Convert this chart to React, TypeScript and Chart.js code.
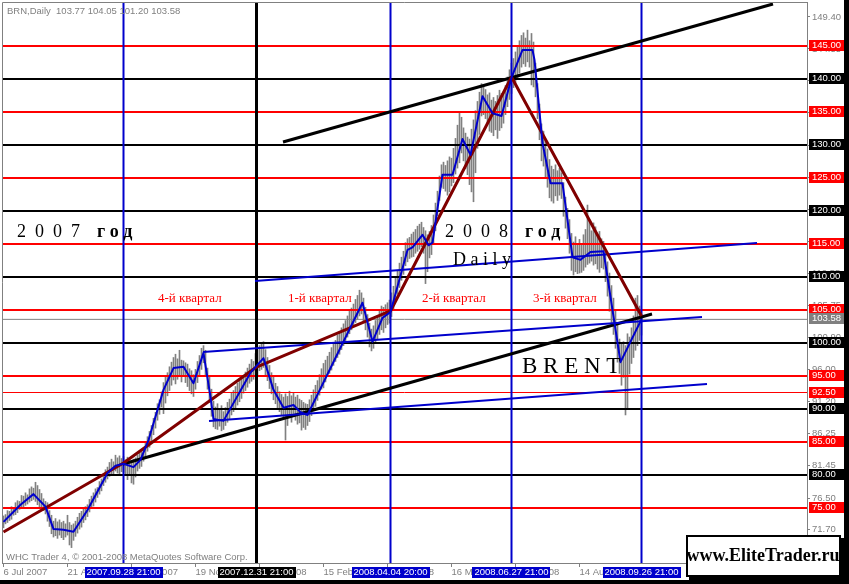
import React, { useEffect, useRef } from "react";
import { Chart, registerables } from "chart.js";

Chart.register(...registerables);

const SANS = "'Liberation Sans', Arial, sans-serif";
const SERIF = "'Liberation Serif', 'Times New Roman', serif";

// ---- data ----
const symbolName = "BRN,Daily";
const lastBar = [103.77, 104.05, 101.2, 103.58]; // open high low close

// daily bar highs / lows (trading-day index 0..319, 6 Jul 2007 .. 26 Sep 2008)
const barHighs = [
  73.8, 74.0, 74.6, 74.5, 75.2, 75.0, 75.8, 76.1, 76.0, 76.9,
  76.8, 77.3, 77.0, 77.9, 78.2, 78.0, 78.9, 78.4, 77.8, 77.2,
  76.4, 76.0, 75.8, 74.6, 73.9, 73.0, 73.4, 72.9, 73.2, 72.8,
  73.0, 72.6, 73.9, 72.8, 72.4, 72.6, 73.0, 73.6, 74.2, 74.5,
  74.9, 75.2, 75.5, 76.3, 76.8, 77.3, 77.9, 78.1, 79.0, 79.4,
  80.1, 80.8, 81.2, 81.9, 82.4, 82.0, 83.0, 82.6, 82.9, 82.5,
  82.8, 82.3, 82.7, 82.2, 82.0, 82.4, 82.6, 83.0, 83.4, 83.5,
  84.1, 85.0, 85.8, 86.6, 87.5, 88.6, 89.5, 90.8, 91.4, 92.6,
  94.0, 94.9, 95.5, 96.4, 97.1, 97.8, 98.3, 97.6, 98.9, 97.4,
  97.3, 97.0, 96.8, 96.1, 95.8, 95.2, 96.0, 97.2, 98.1, 99.2,
  99.6, 98.9, 96.2, 94.8, 93.0, 91.2, 90.3, 90.8, 89.9, 90.5,
  89.6, 90.2, 91.0, 91.5, 92.4, 92.8, 93.4, 93.9, 94.6, 95.0,
  95.0, 95.6, 96.2, 96.8, 97.5, 97.2, 98.4, 98.9, 99.6, 100.1,
  100.2, 99.0, 97.8, 96.6, 95.5, 94.8, 93.9, 93.4, 92.6, 92.2,
  91.8, 92.3, 91.9, 92.7, 92.0, 92.4, 91.8, 92.1, 91.5, 91.3,
  91.0, 90.8, 90.7, 91.4, 92.1, 92.9, 93.6, 94.3, 95.2, 96.1,
  96.9, 97.4, 98.0, 98.6, 99.3, 99.8, 100.4, 101.2, 101.7, 102.3,
  102.9, 103.4, 104.1, 104.8, 105.3, 105.9, 106.6, 107.2, 108.0, 107.6,
  106.8, 105.4, 104.3, 103.0, 102.1, 102.6, 103.4, 104.2, 104.9, 105.6,
  105.4, 105.8, 106.1, 106.5, 107.6, 108.6, 109.8, 110.9, 112.1, 113.0,
  113.9, 115.2, 115.8, 116.0, 116.5, 116.8, 117.2, 117.7, 118.0, 118.3,
  117.5, 117.0, 116.4, 116.9, 117.8, 119.4, 121.2, 123.0, 125.3, 127.0,
  127.4, 126.9, 127.6, 128.2, 128.0, 129.5, 131.0, 133.0, 134.8, 134.2,
  132.6, 131.8, 131.2, 130.9, 132.4, 133.8, 135.2, 136.6, 138.0, 139.3,
  139.0, 138.4, 137.6, 137.9, 136.8, 137.2, 136.6, 137.5, 138.3, 137.8,
  137.9, 139.0, 140.3, 141.4, 142.4, 143.1, 144.1, 145.0, 145.8, 146.6,
  147.0, 146.2, 147.4, 145.8, 146.9, 145.6, 142.4, 139.3, 136.2, 133.2,
  132.1, 130.8, 129.4, 127.8, 126.8, 126.3, 127.0, 126.1, 126.5, 125.8,
  124.3, 122.1, 120.4, 118.7, 116.6, 115.3, 116.1, 115.0, 115.7, 114.9,
  116.4, 117.2, 120.9, 118.5, 117.0, 118.2, 117.6, 116.3, 116.9, 115.8,
  115.4, 114.0, 112.3, 110.6, 108.7, 106.8, 104.9, 103.0, 100.6, 99.8,
  100.2, 99.6, 101.4, 100.9, 102.3, 104.1, 106.8, 107.2, 105.6, 104.05,
];
const barLows = [
  72.0, 72.6, 72.8, 73.1, 73.3, 73.9, 74.0, 74.3, 74.8, 74.9,
  75.1, 75.4, 75.6, 75.9, 76.1, 76.3, 76.0, 75.5, 75.2, 74.7,
  74.6, 74.1, 73.0, 72.2, 71.1, 70.6, 70.8, 70.4, 70.9, 70.5,
  70.2, 70.6, 70.9, 69.4, 69.0, 70.1, 70.7, 71.2, 71.8, 72.1,
  72.8, 73.2, 73.7, 74.4, 74.9, 75.3, 75.9, 76.6, 77.1, 77.6,
  78.4, 78.9, 79.4, 79.8, 79.9, 80.2, 80.6, 80.3, 79.9, 80.5,
  80.4, 79.9, 79.3, 80.0, 78.8, 78.6, 79.7, 80.6, 81.0, 81.3,
  82.1, 82.9, 83.6, 84.2, 85.2, 86.1, 87.1, 88.3, 89.2, 90.3,
  89.3, 90.9, 92.0, 92.8, 93.6, 94.4, 93.8, 94.5, 94.9, 94.1,
  94.9, 94.0, 93.4, 92.8, 92.3, 91.9, 93.0, 94.0, 95.1, 96.0,
  97.0, 95.2, 93.0, 91.0, 88.9, 87.3, 87.0, 86.9, 87.4, 86.7,
  86.9, 87.5, 88.0, 88.4, 89.1, 89.6, 89.9, 90.6, 91.1, 91.6,
  92.4, 92.8, 93.3, 93.9, 94.2, 94.5, 94.9, 95.2, 95.8, 96.0,
  96.3, 95.2, 94.3, 93.1, 92.3, 91.4, 90.8, 90.2, 89.6, 89.1,
  88.6, 85.3, 87.5, 88.8, 88.0, 88.9, 88.3, 87.7, 87.9, 86.8,
  87.2, 86.9, 87.5, 88.1, 89.0, 89.7, 90.4, 91.3, 92.1, 93.0,
  93.2, 94.1, 94.9, 95.4, 95.9, 96.6, 97.2, 97.8, 98.3, 99.0,
  99.6, 100.2, 100.9, 101.4, 102.0, 102.6, 103.1, 103.6, 104.1, 104.4,
  103.2, 102.0, 100.9, 99.4, 98.8, 99.2, 99.9, 100.6, 101.3, 102.0,
  101.6, 102.3, 102.8, 103.0, 104.0, 105.0, 106.3, 107.4, 108.4, 109.5,
  110.4, 111.7, 112.3, 112.8, 113.0, 113.1, 113.6, 113.9, 114.2, 114.6,
  113.6, 109.0, 110.8, 112.9, 113.4, 115.2, 117.0, 119.3, 121.6, 123.6,
  123.4, 123.0, 122.4, 122.9, 123.8, 124.3, 125.6, 126.5, 127.3, 128.8,
  127.6, 126.4, 125.5, 124.0, 122.9, 121.4, 125.8, 129.5, 131.6, 134.4,
  134.6, 134.0, 133.2, 132.1, 131.9, 131.4, 132.3, 131.0, 132.2, 132.6,
  133.3, 134.6, 135.8, 136.9, 137.8, 138.7, 139.4, 140.2, 140.9, 141.8,
  142.3, 141.9, 142.6, 141.8, 139.1, 138.8, 137.3, 134.0, 130.8, 127.6,
  126.8, 125.2, 123.6, 122.0, 121.5, 121.2, 122.3, 121.6, 122.4, 121.9,
  119.2, 117.4, 115.8, 113.6, 111.0, 110.3, 110.8, 110.5, 110.6, 110.7,
  111.0, 111.5, 111.9, 112.1, 112.4, 111.8, 112.0, 111.2, 110.7, 111.4,
  111.2, 109.3, 107.1, 104.8, 103.0, 101.3, 99.2, 97.1, 95.4, 93.6,
  94.8, 89.1, 90.2, 95.3, 96.9, 97.8, 98.9, 99.6, 100.4, 101.2,
];

// hand-drawn blue zigzag
const zigIdx = [0, 8.5, 15, 21, 25, 30, 35, 42, 52, 56, 60, 65, 68.5, 72.5, 80, 85, 90, 95, 100, 103.5,
  105, 110, 123.5, 130, 135, 140, 145, 148.5, 152, 179.5, 184.5, 189.5, 193.5, 202, 204.5, 209.5, 212.5, 214.5, 219.5, 224.5,
  229.5, 233.5, 239.5, 244.5, 249, 254, 259.5, 264.5, 265.5, 269.5, 273.5, 279.5, 282, 284.5, 288.5, 293.5, 300, 308.5, 319];
const zigPrice = [72.9, 75.5, 77.1, 75.2, 71.8, 71.7, 71.4, 74.7, 80.3, 81.4, 81.7, 81.2, 82.3, 85.3, 92.9, 96.2, 96.4, 93.9, 98.5, 91.8,
  88.5, 88.2, 95.5, 97.7, 92.9, 90.2, 90.6, 89.5, 89.1, 106.1, 100.2, 103.8, 104.7, 114.1, 114.5, 116.4, 114.8, 115.2, 125.5, 125.5,
  130.9, 128.5, 137.4, 134.8, 134.4, 140.2, 144.4, 144.4, 142.9, 130.3, 124.2, 124.2, 118.6, 113.0, 112.6, 113.8, 113.9, 97.1, 103.6];

// maroon polyline
const maroonIdx = [0, 60, 126.5, 193.5, 254, 319];
const maroonPrice = [71.36, 81.82, 96.36, 104.85, 140.3, 104.09];

// trend lines [idx1, price1, idx2, price2]
const blackTrends = [
  [139.75, 130.45, 384.75, 151.36],
  [59.75, 81.67, 324.25, 104.39],
];
const blueTrends = [
  [99.75, 98.64, 349.25, 103.94],
  [102.75, 88.18, 351.75, 93.79],
  [125.75, 109.39, 376.75, 115.15],
];

const redLevels = [145, 135, 125, 115, 105, 95, 92.5, 85, 75];
const thinLevels = [92.5];
const blackLevels = [140, 130, 120, 110, 100, 90, 80];

const blueVerticals = [60, 193.5, 254, 319];
const blueVerticalLabels = ["2007.09.28 21:00", "2008.04.04 20:00", "2008.06.27 21:00", "2008.09.26 21:00"];
const blackVerticals = [126.5];
const blackVerticalLabels = ["2007.12.31 21:00"];

const priceTicks = [71.7, 76.5, 81.45, 86.25, 91.2, 96.0, 100.9, 105.75, 110.55, 115.45, 120.3, 125.15, 129.95, 134.85, 139.7, 144.55, 149.4];
const dateTickIdx = [0, 32, 64, 96, 128, 160, 192, 224, 256, 288];
const dateTickLabels = ["6 Jul 2007", "21 Aug 2007", "4 Oct 2007", "19 Nov 2007", "2 Jan 2008", "15 Feb 2008", "1 Apr 2008", "16 May 2008", "1 Jul 2008", "14 Aug 2008"];

const quarterLabels = ["4-й квартал", "1-й квартал", "2-й квартал", "3-й квартал"];
const quarterIdx = [77.25, 142.25, 209.25, 264.75];
const quarterPrice = 106.67;

const copyright = "WHC Trader 4, © 2001-2008 MetaQuotes Software Corp.";
const siteName = "www.EliteTrader.ru";

// ---- colours ----
const BLUE = "#0000CC";
const RED = "#FF0000";
const MAROON = "#800000";
const GRAY = "#808080";

const X_MIN = -0.75;
const X_MAX = 401.75;
const Y_MIN = 66.6667;
const Y_MAX = 151.6667;

function lineDs(points: { x: number; y: number }[], color: string, width: number, order: number) {
  return {
    type: "line",
    data: points,
    borderColor: color,
    backgroundColor: color,
    borderWidth: width,
    pointRadius: 0,
    pointHoverRadius: 0,
    fill: false,
    tension: 0,
    order,
    borderCapStyle: "butt",
    borderJoinStyle: "round",
  };
}

function buildDatasets() {
  const ds: any[] = [];
  ds.push({
    type: "bar",
    data: barHighs.map((h, i) => ({ x: i, y: [barLows[i], h] })),
    backgroundColor: GRAY,
    borderWidth: 0,
    barThickness: 1,
    order: 10,
  });
  redLevels.forEach((v) =>
    ds.push(lineDs([{ x: X_MIN - 2, y: v }, { x: X_MAX + 2, y: v }], RED, thinLevels.includes(v) ? 1 : 2, 6))
  );
  blackLevels.forEach((v) =>
    ds.push(lineDs([{ x: X_MIN - 2, y: v }, { x: X_MAX + 2, y: v }], "#000000", 2, 6))
  );
  ds.push(lineDs([{ x: X_MIN - 2, y: lastBar[3] }, { x: X_MAX + 2, y: lastBar[3] }], GRAY, 1, 7));
  blueVerticals.forEach((v) =>
    ds.push(lineDs([{ x: v, y: Y_MIN - 5 }, { x: v, y: Y_MAX + 5 }], BLUE, 2, 5))
  );
  blackVerticals.forEach((v) =>
    ds.push(lineDs([{ x: v, y: Y_MIN - 5 }, { x: v, y: Y_MAX + 5 }], "#000000", 3, 5))
  );
  blueTrends.forEach((t) =>
    ds.push(lineDs([{ x: t[0], y: t[1] }, { x: t[2], y: t[3] }], BLUE, 2, 3))
  );
  blackTrends.forEach((t) =>
    ds.push(lineDs([{ x: t[0], y: t[1] }, { x: t[2], y: t[3] }], "#000000", 3, 3))
  );
  ds.push(lineDs(maroonIdx.map((x, i) => ({ x, y: maroonPrice[i] })), MAROON, 3, 2));
  ds.push(lineDs(zigIdx.map((x, i) => ({ x, y: zigPrice[i] })), BLUE, 2, 1));
  return ds;
}

const overlayPlugin = {
  id: "mtOverlay",
  beforeDraw(chart: any) {
    const { ctx, width, height } = chart;
    ctx.save();
    ctx.fillStyle = "#ffffff";
    ctx.fillRect(0, 0, width, height);
    ctx.restore();
  },
  afterDraw(chart: any) {
    const { ctx, width, height, chartArea: ca } = chart;
    const xs = chart.scales.x;
    const ys = chart.scales.y;
    ctx.save();

    // chart frame (left/top)
    ctx.strokeStyle = GRAY;
    ctx.lineWidth = 1;
    ctx.beginPath();
    ctx.moveTo(ca.left + 0.5, ca.bottom);
    ctx.lineTo(ca.left + 0.5, ca.top + 0.5);
    ctx.lineTo(ca.right, ca.top + 0.5);
    ctx.stroke();

    // header
    ctx.font = `9.5px ${SANS}`;
    ctx.fillStyle = GRAY;
    ctx.textBaseline = "middle";
    ctx.textAlign = "left";
    ctx.fillText(`${symbolName}  ${lastBar.map((v) => v.toFixed(2)).join(" ")}`, ca.left + 5, ca.top + 9);

    // year texts
    const yearTexts = [
      { digits: "2  0  0  7", word: "г о д", i: 6.75 },
      { digits: "2  0  0  8", word: "г о д", i: 220.75 },
    ];
    yearTexts.forEach((t) => {
      const x = xs.getPixelForValue(t.i);
      const y = ys.getPixelForValue(116.82);
      ctx.fillStyle = "#000";
      ctx.font = `18px ${SERIF}`;
      ctx.fillText(t.digits, x, y);
      const w = ctx.measureText(t.digits).width;
      ctx.font = `bold 18px ${SERIF}`;
      ctx.fillText(t.word, x + w + 17, y);
    });

    ctx.font = `18px ${SERIF}`;
    ctx.fillStyle = "#000";
    ctx.fillText("D a i l y", xs.getPixelForValue(224.75), ys.getPixelForValue(112.58));
    ctx.font = `23px ${SERIF}`;
    ctx.fillText("B R E N T", xs.getPixelForValue(259.25), ys.getPixelForValue(96.36));

    // quarter labels
    ctx.font = `13px ${SERIF}`;
    ctx.fillStyle = RED;
    quarterLabels.forEach((q, k) => {
      ctx.fillText(q, xs.getPixelForValue(quarterIdx[k]), ys.getPixelForValue(quarterPrice));
    });

    // copyright
    ctx.font = `9.5px ${SANS}`;
    ctx.fillStyle = GRAY;
    ctx.fillText(copyright, ca.left + 4, ca.bottom - 6);

    // price boxes
    const priceBox = (v: number, bg: string) => {
      const y = Math.round(ys.getPixelForValue(v));
      ctx.fillStyle = bg;
      ctx.fillRect(ca.right + 2, y - 6, 35, 11);
      ctx.fillStyle = "#fff";
      ctx.font = `9.5px ${SANS}`;
      ctx.textAlign = "left";
      ctx.textBaseline = "middle";
      ctx.fillText(v.toFixed(2), ca.right + 5, y - 0.5);
    };
    redLevels.forEach((v) => priceBox(v, RED));
    blackLevels.forEach((v) => priceBox(v, "#000"));
    priceBox(lastBar[3], GRAY);

    // date boxes on time axis
    const dateBox = (i: number, label: string, bg: string) => {
      const x = xs.getPixelForValue(i);
      ctx.fillStyle = bg;
      ctx.fillRect(Math.round(x - 39), ca.bottom + 4, 78, 11);
      ctx.fillStyle = "#fff";
      ctx.font = `9.5px ${SANS}`;
      ctx.textAlign = "center";
      ctx.textBaseline = "middle";
      ctx.fillText(label, x, ca.bottom + 9.5);
    };
    blueVerticals.forEach((v, k) => dateBox(v, blueVerticalLabels[k], BLUE));
    blackVerticals.forEach((v, k) => dateBox(v, blackVerticalLabels[k], "#000"));

    // outer black frame (right / bottom)
    ctx.fillStyle = "#000";
    ctx.fillRect(width - 5, 0, 5, height);
    ctx.fillRect(0, height - 4, width, 4);

    // site box
    const bx = width - 163;
    const by = height - 49;
    ctx.fillStyle = "#fff";
    ctx.fillRect(bx, by, 155, 42);
    ctx.strokeStyle = "#000";
    ctx.lineWidth = 2;
    ctx.strokeRect(bx + 1, by + 1, 153, 40);
    ctx.fillStyle = "#000";
    ctx.fillRect(bx + 155, by + 3, 3, 42);
    ctx.fillRect(bx + 3, by + 42, 155, 3);
    ctx.font = `bold 18px ${SERIF}`;
    ctx.textAlign = "center";
    ctx.textBaseline = "middle";
    ctx.fillText(siteName, bx + 77, by + 21);

    ctx.restore();
  },
};

export default function App() {
  const ref = useRef<HTMLCanvasElement>(null);
  useEffect(() => {
    const canvas = ref.current;
    if (!canvas) return;
    const chart = new Chart(canvas, {
      type: "bar",
      data: { datasets: buildDatasets() } as any,
      options: {
        responsive: false,
        maintainAspectRatio: false,
        animation: false,
        devicePixelRatio: 1,
        events: [],
        layout: { padding: { left: 2, top: 2, right: 5, bottom: 4 } },
        plugins: {
          legend: { display: false },
          tooltip: { enabled: false },
          title: { display: false },
        },
        scales: {
          x: {
            type: "linear",
            min: X_MIN,
            max: X_MAX,
            offset: false,
            bounds: "data",
            afterBuildTicks: (s: any) => {
              s.ticks = dateTickIdx.map((v) => ({ value: v }));
            },
            afterFit: (s: any) => {
              s.height = 17;
              s.paddingLeft = 0;
              s.paddingRight = 0;
              s.paddingTop = 0;
              s.paddingBottom = 0;
            },
            grid: { drawOnChartArea: false, drawTicks: true, tickLength: 4, color: GRAY, offset: false },
            border: { color: GRAY, width: 1 },
            ticks: {
              autoSkip: false,
              maxRotation: 0,
              minRotation: 0,
              align: "start",
              padding: 0,
              color: GRAY,
              font: { family: SANS, size: 9.5 },
              callback: (_v: any, idx: number) => dateTickLabels[idx] ?? "",
            },
          },
          y: {
            type: "linear",
            position: "right",
            min: Y_MIN,
            max: Y_MAX,
            bounds: "data",
            beginAtZero: false,
            afterBuildTicks: (s: any) => {
              s.ticks = priceTicks.map((v) => ({ value: v }));
            },
            afterFit: (s: any) => {
              s.width = 37;
              s.paddingLeft = 0;
              s.paddingRight = 0;
              s.paddingTop = 0;
              s.paddingBottom = 0;
            },
            grid: { drawOnChartArea: false, drawTicks: true, tickLength: 3, color: GRAY },
            border: { color: GRAY, width: 1 },
            ticks: {
              autoSkip: false,
              padding: 2,
              color: GRAY,
              font: { family: SANS, size: 9.5 },
              callback: (v: any) => Number(v).toFixed(2),
            },
          },
        },
      } as any,
      plugins: [overlayPlugin],
    });
    return () => chart.destroy();
  }, []);
  return (
    <canvas
      ref={ref}
      width={849}
      height={584}
      style={{ position: "absolute", left: 0, top: 0, width: 849, height: 584, display: "block" }}
    />
  );
}
